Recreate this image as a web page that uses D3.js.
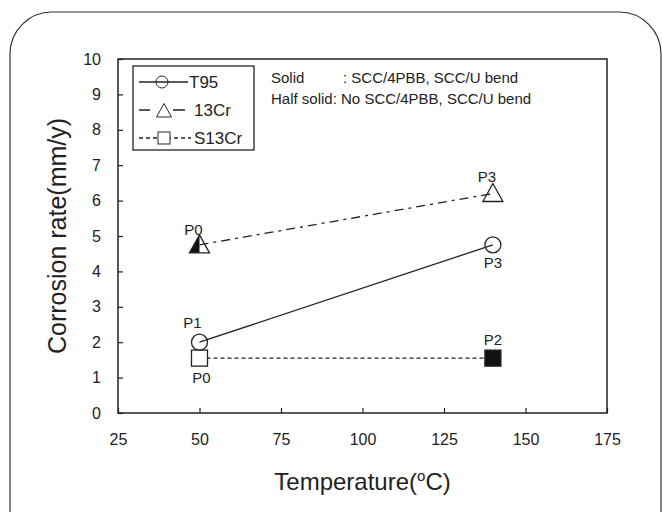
<!DOCTYPE html>
<html>
<head>
<meta charset="utf-8">
<script src="https://cdn.jsdelivr.net/npm/d3@7"></script>
<style>
  body { margin: 0; background: #fff; }
  text { font-family: Arial, "Liberation Sans", sans-serif; fill: #222; }
</style>
</head>
<body>
<svg width="662" height="512"></svg>
<script>
// data
var temps = [50, 140];
var t95 = [2.0, 4.75];
var cr13 = [4.75, 6.2];
var s13cr = [1.55, 1.55];
var t95Tags = ["P1", "P3"];
var cr13Tags = ["P0", "P3"];
var s13crTags = ["P0", "P2"];
var t95Fill = ["open", "open"];
var cr13Fill = ["half", "open"];
var s13crFill = ["open", "solid"];
var seriesNames = ["T95", "13Cr", "S13Cr"];
var xTicks = [25, 50, 75, 100, 125, 150, 175];
var yTicks = [0, 1, 2, 3, 4, 5, 6, 7, 8, 9, 10];
var notes = [["Solid", ": SCC/4PBB, SCC/U bend"], ["Half solid", ": No SCC/4PBB, SCC/U bend"]];

var svg = d3.select("svg"),
    margin = {top: 59, right: 55, bottom: 99, left: 118},
    width = +svg.attr("width") - margin.left - margin.right,
    height = +svg.attr("height") - margin.top - margin.bottom;

// rounded frame round the whole figure
svg.append("rect")
    .attr("x", 10).attr("y", 12)
    .attr("width", 651).attr("height", 540)
    .attr("rx", 42)
    .attr("fill", "none")
    .attr("stroke", "#333")
    .attr("stroke-width", 1.2);

var x = d3.scaleLinear().domain([25, 175]).range([0, width]),
    y = d3.scaleLinear().domain([0, 10]).range([height, 0]);

var g = svg.append("g")
    .attr("transform", "translate(" + margin.left + "," + margin.top + ")");

g.append("g")
    .attr("class", "axis axis--x")
    .attr("transform", "translate(0," + height + ")")
    .call(d3.axisBottom(x).tickValues(xTicks).tickSizeInner(-5).tickSizeOuter(0).tickPadding(21));

g.append("g")
    .attr("class", "axis axis--y")
    .call(d3.axisLeft(y).tickValues(yTicks).tickSizeInner(-5).tickSizeOuter(0).tickPadding(17));

g.selectAll(".axis .domain").remove();
g.selectAll(".axis line").attr("stroke", "#222").attr("stroke-width", 1.2);
g.selectAll(".axis text").attr("font-size", "16px").attr("fill", "#222");

// plot box
g.append("rect")
    .attr("width", width).attr("height", height)
    .attr("fill", "none")
    .attr("stroke", "#222")
    .attr("stroke-width", 1.5);

// axis titles
svg.append("text")
    .attr("transform", "translate(66," + (margin.top + height / 2) + ") rotate(-90)")
    .attr("text-anchor", "middle")
    .attr("font-size", "25px")
    .text("Corrosion rate(mm/y)");

var xt = svg.append("text")
    .attr("x", margin.left + width / 2)
    .attr("y", 490)
    .attr("text-anchor", "middle")
    .attr("font-size", "24px");
xt.append("tspan").text("Temperature(");
xt.append("tspan").attr("font-size", "15px").attr("dy", "-9").text("o");
xt.append("tspan").attr("dy", "9").text("C)");

// series styles
var series = [
  {name: seriesNames[0], vals: t95, tags: t95Tags, fill: t95Fill, dash: null, shape: "circle",
   tagOff: [[-7, -14], [0, 23]]},
  {name: seriesNames[1], vals: cr13, tags: cr13Tags, fill: cr13Fill, dash: "9,5,3,5", shape: "triangle",
   tagOff: [[-6, -10], [-6, -12]]},
  {name: seriesNames[2], vals: s13cr, tags: s13crTags, fill: s13crFill, dash: "4,3", shape: "square",
   tagOff: [[2, 25], [0, -13]]}
];

var line = d3.line()
    .x(function(d) { return x(d[0]); })
    .y(function(d) { return y(d[1]); });

function drawMarker(sel, shape, fill) {
  if (shape === "circle") {
    sel.append("circle").attr("r", 8)
        .attr("fill", fill === "solid" ? "#111" : "none")
        .attr("stroke", "#222").attr("stroke-width", 1.3);
  } else if (shape === "square") {
    sel.append("rect").attr("x", -8).attr("y", -8).attr("width", 16).attr("height", 16)
        .attr("fill", fill === "solid" ? "#111" : "#fff")
        .attr("stroke", "#222").attr("stroke-width", 1.3);
  } else {
    if (fill === "half") {
      sel.append("path").attr("d", "M0,-10L-10,8L0,8Z").attr("fill", "#111");
    }
    sel.append("path").attr("d", "M0,-10L-10,8L10,8Z")
        .attr("fill", fill === "solid" ? "#111" : "none")
        .attr("stroke", "#222").attr("stroke-width", 1.3);
  }
}

series.forEach(function(s) {
  var pts = temps.map(function(t, i) { return [t, s.vals[i]]; });

  g.append("path")
      .datum(pts)
      .attr("fill", "none")
      .attr("stroke", "#222")
      .attr("stroke-width", 1.3)
      .attr("stroke-dasharray", s.dash)
      .attr("d", line);

  pts.forEach(function(p, i) {
    var m = g.append("g")
        .attr("transform", "translate(" + x(p[0]) + "," + y(p[1]) + ")");
    drawMarker(m, s.shape, s.fill[i]);
    m.append("text")
        .attr("x", s.tagOff[i][0])
        .attr("y", s.tagOff[i][1])
        .attr("text-anchor", "middle")
        .attr("font-size", "15px")
        .text(s.tags[i]);
  });
});

// legend
var legend = svg.append("g").attr("transform", "translate(133,66)");
legend.append("rect")
    .attr("width", 121).attr("height", 84)
    .attr("fill", "#fff")
    .attr("stroke", "#222")
    .attr("stroke-width", 1.3);

var legDash = [null, "11,23,12", "4,3"];
var legX = [56, 61, 61];
series.forEach(function(s, i) {
  var row = legend.append("g").attr("transform", "translate(0," + (16 + i * 28) + ")");
  row.append("line")
      .attr("x1", 6).attr("x2", i === 0 ? 55 : 58)
      .attr("stroke", "#222").attr("stroke-width", 1.3)
      .attr("stroke-dasharray", legDash[i]);
  var m = row.append("g").attr("transform", "translate(" + (i === 0 ? 29 : 31) + "," + (i === 1 ? 1 : 0) + ") scale(0.75)");
  drawMarker(m, s.shape, "open");
  row.append("text")
      .attr("x", legX[i])
      .attr("dy", "0.36em")
      .attr("font-size", "17px")
      .text(s.name);
});

// annotation
notes.forEach(function(n, i) {
  var t = svg.append("text")
      .attr("x", 271)
      .attr("y", 83 + i * 21)
      .attr("font-size", "15px");
  t.append("tspan").text(n[0]);
  t.append("tspan").attr("x", i === 0 ? 343 : null).text(n[1]);
});
</script>
</body>
</html>
